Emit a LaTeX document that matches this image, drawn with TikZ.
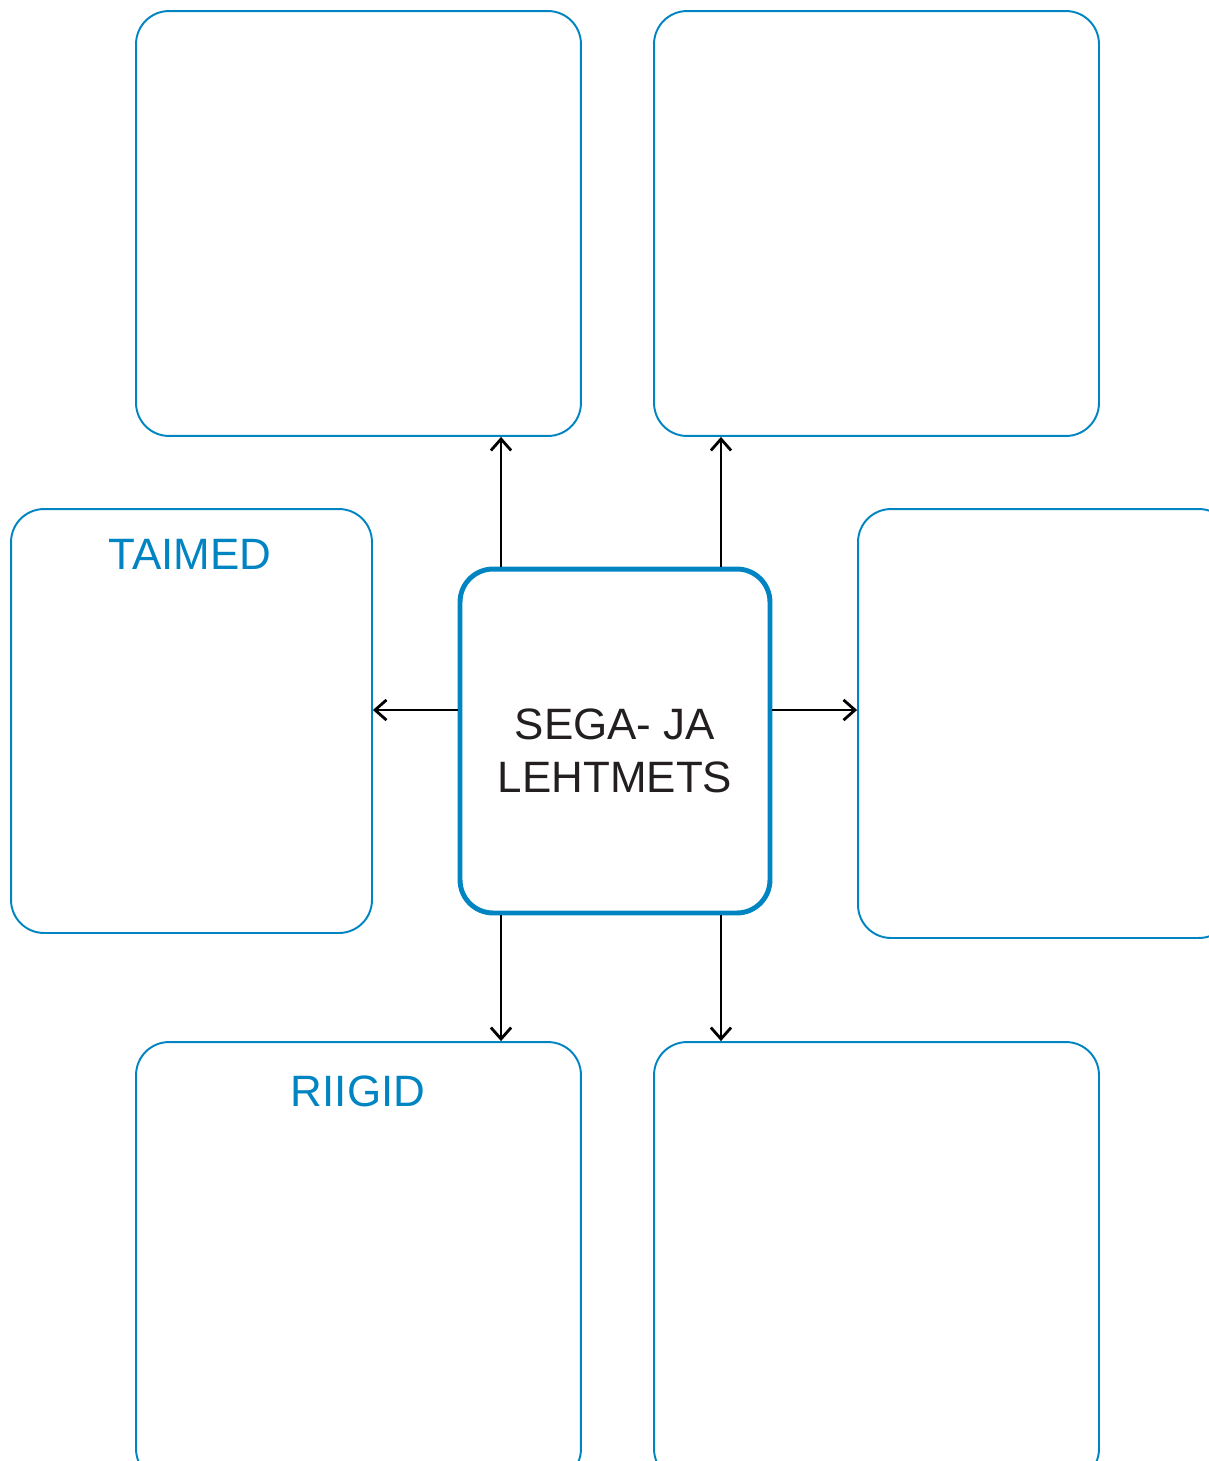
\documentclass[tikz,border=0pt]{standalone}
\usepackage{fontspec}
\setmainfont{Liberation Sans}
\usepackage{xcolor}
\usetikzlibrary{arrows.meta,positioning,calc}

\definecolor{mapblue}{RGB}{0,132,194}
\definecolor{maptext}{RGB}{35,31,32}

\begin{document}
\begin{tikzpicture}[x=0.02cm, y=-0.02cm, >={Straight Barb[length=6.5pt,width=11.5pt]}]
  \tikzstyle{box}=[rectangle, draw=mapblue, line width=1.1pt, rounded corners=0.66cm, inner sep=0pt]
  \tikzstyle{hubbox}=[box, line width=2.8pt]
  \tikzstyle{title}=[font=\fontsize{25}{30}\selectfont, text=mapblue, inner sep=0pt]
  \tikzstyle{arr}=[->, line width=1.6pt, black]

  \useasboundingbox (0,0) rectangle (1209,1461);

  % Center
  \node[hubbox, minimum width=6.2cm, minimum height=6.88cm] (hub) at (615,741) {};
  \node[title, text=maptext, align=center] (hubtxt) at (615,751) {SEGA- JA\\LEHTMETS};

  % Boxes
  \node[box, minimum width=8.9cm, minimum height=8.5cm] (tl) at (358.5,223.5) {};
  \node[box, minimum width=8.9cm, minimum height=8.5cm] (tr) at (876.5,223.5) {};
  \node[box, minimum width=7.22cm, minimum height=8.48cm] (lb) at (191.5,721) {};
  \node[box, minimum width=7.48cm, minimum height=8.58cm] (rb) at (1045,723.5) {};
  \node[box, minimum width=8.9cm, minimum height=8.8cm] (bl) at (358.5,1262) {};
  \node[box, minimum width=8.9cm, minimum height=8.8cm] (br) at (876.5,1262) {};

  % Titles
  \node[title] (taimed) at (190,554) {TAIMED};
  \node[title] (riigid) at (358,1091) {RIIGID};

  % Arrows
  \draw[arr] ([xshift=-2.28cm]hub.north) -- ([xshift=-2.28cm]hub.north |- tl.south);
  \draw[arr] ([xshift=2.12cm]hub.north) -- ([xshift=2.12cm]hub.north |- tr.south);
  \draw[arr] ([yshift=0.62cm]hub.west) -- ([yshift=0.62cm]hub.west -| lb.east);
  \draw[arr] ([yshift=0.62cm]hub.east) -- ([yshift=0.62cm]hub.east -| rb.west);
  \draw[arr] ([xshift=-2.28cm]hub.south) -- ([xshift=-2.28cm]hub.south |- bl.north);
  \draw[arr] ([xshift=2.12cm]hub.south) -- ([xshift=2.12cm]hub.south |- br.north);
\end{tikzpicture}
\end{document}
